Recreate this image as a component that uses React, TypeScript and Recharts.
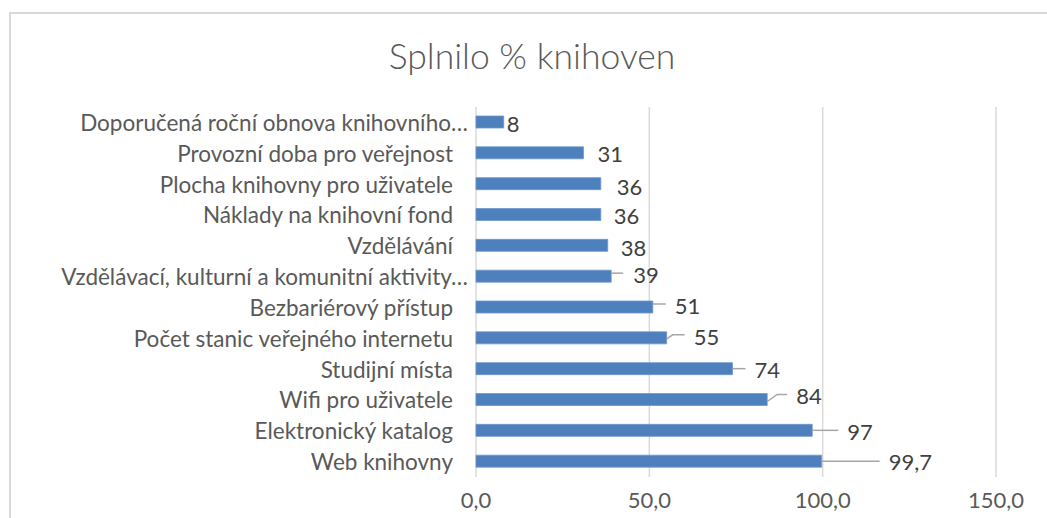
import React from 'react';
import { BarChart, Bar, XAxis, YAxis, CartesianGrid, LabelList } from 'recharts';

const categories = [
  'Doporučená roční obnova knihovního…',
  'Provozní doba pro veřejnost',
  'Plocha knihovny pro uživatele',
  'Náklady na knihovní fond',
  'Vzdělávání',
  'Vzdělávací, kulturní a komunitní aktivity…',
  'Bezbariérový přístup',
  'Počet stanic veřejného internetu',
  'Studijní místa',
  'Wifi pro uživatele',
  'Elektronický katalog',
  'Web knihovny',
];

const splnilo = [8, 31, 36, 36, 38, 39, 51, 55, 74, 84, 97, 99.7];

const xTicks = [0, 50, 100, 150];

const title = 'Splnilo % knihoven';

const data = categories.map((name, i) => ({ name, value: splnilo[i] }));

const FONT = 'Lato, "Liberation Sans", sans-serif';

// where Excel put each data label: offset from bar end, plus leader line (relative points)
const labelPos: { dx: number; dy: number; leader?: number[][] }[] = [
  { dx: 3, dy: 1 },
  { dx: 14, dy: 1 },
  { dx: 16, dy: 3 },
  { dx: 13, dy: 1 },
  { dx: 13, dy: 2 },
  { dx: 22, dy: -2, leader: [[0, -3], [12, -3]] },
  { dx: 22, dy: -2, leader: [[0, -3], [13, -3]] },
  { dx: 27, dy: -1, leader: [[0, 1], [6, -3], [18, -3]] },
  { dx: 22, dy: 1, leader: [[0, 0], [13, 0]] },
  { dx: 29, dy: -4, leader: [[0, 2], [10, -5], [20, -5]] },
  { dx: 35, dy: 1, leader: [[0, 0], [26, 0]] },
  { dx: 67, dy: 0, leader: [[0, 0], [58, 0]] },
];

const fmt = (v: number) => String(v).replace('.', ',');

const ValueLabel = (props: any) => {
  const { x, y, width, height, value, index } = props;
  const endX = x + width;
  const cy = y + height / 2;
  const p = labelPos[index] || { dx: 4, dy: 0 };
  return (
    <g>
      {p.leader && (
        <polyline
          points={p.leader.map(([a, b]) => `${endX + a},${cy + b}`).join(' ')}
          fill="none"
          stroke="#a6a6a6"
          strokeWidth={1.5}
        />
      )}
      <text
        x={endX + p.dx}
        y={cy + p.dy}
        dominantBaseline="central"
        fill="#404040"
        fontSize={22}
        fontFamily={FONT}
      >
        {fmt(value)}
      </text>
    </g>
  );
};

const CategoryTick = (props: any) => {
  const { x, y, payload } = props;
  const trunc = String(payload.value).endsWith('…');
  return (
    <text
      x={x - (trunc ? 8 : 23)}
      y={y}
      textAnchor="end"
      dominantBaseline="central"
      fill="#595959"
      fontSize={22.5}
      fontFamily={FONT}
    >
      {payload.value}
    </text>
  );
};

const ValueTick = (props: any) => {
  const { x, y, payload } = props;
  return (
    <text
      x={x}
      y={y + 22}
      textAnchor="middle"
      dominantBaseline="central"
      fill="#595959"
      fontSize={22}
      fontFamily={FONT}
    >
      {payload.value.toFixed(1).replace('.', ',')}
    </text>
  );
};

export default function App() {
  return (
    <div
      style={{
        position: 'absolute',
        left: 0,
        top: 0,
        width: 1047,
        height: 518,
        overflow: 'hidden',
        background: '#fff',
      }}
    >
      <div
        style={{
          position: 'absolute',
          left: 9,
          top: 12,
          width: 1200,
          height: 700,
          border: '2px solid #d9d9d9',
        }}
      />
      <div
        style={{
          position: 'absolute',
          left: 0,
          top: 35,
          width: 1064,
          textAlign: 'center',
          fontFamily: FONT,
          fontWeight: 300,
          fontSize: 35.5,
          color: '#595959',
          lineHeight: '42px',
        }}
      >
        {title}
      </div>
      <div style={{ position: 'absolute', left: 0, top: 0 }}>
        <BarChart
          width={1047}
          height={518}
          data={data}
          layout="vertical"
          margin={{ top: 107, right: 51, bottom: 0, left: 0 }}
        >
          <CartesianGrid horizontal={false} stroke="#d9d9d9" strokeWidth={1.5} />
          <XAxis
            type="number"
            domain={[0, 150]}
            ticks={xTicks}
            axisLine={false}
            tickLine={false}
            tickSize={0}
            tickMargin={0}
            height={41}
            tick={<ValueTick />}
          />
          <YAxis
            type="category"
            dataKey="name"
            width={476}
            axisLine={false}
            tickLine={false}
            tickSize={0}
            tickMargin={0}
            interval={0}
            tick={<CategoryTick />}
          />
          <Bar dataKey="value" fill="#4e80bd" stroke="#6c97cc" strokeWidth={0.8} barSize={12} isAnimationActive={false}>
            <LabelList dataKey="value" content={<ValueLabel />} />
          </Bar>
        </BarChart>
      </div>
    </div>
  );
}
